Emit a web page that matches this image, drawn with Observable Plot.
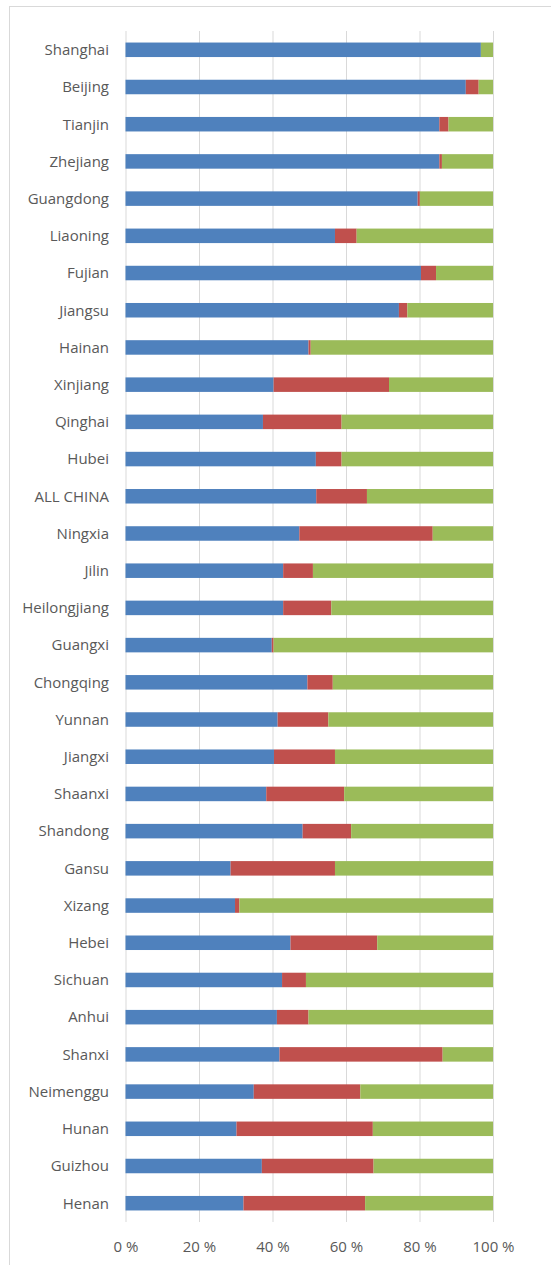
<!DOCTYPE html>
<html>
<head>
<meta charset="utf-8">
<script src="https://cdn.jsdelivr.net/npm/d3@7"></script>
<script src="https://cdn.jsdelivr.net/npm/@observablehq/plot@0.6"></script>
<style>
  html, body { margin: 0; padding: 0; background: #fff; }
  body { width: 551px; height: 1265px; position: relative; overflow: hidden; }
  #frame { position: absolute; left: 9px; top: 6px; width: 700px; height: 1400px;
           border-top: 1px solid #d9d9d9; border-left: 1px solid #d9d9d9; box-sizing: border-box; }
  #chart { position: absolute; left: 0; top: 0; }
</style>
</head>
<body>
<div id="frame"></div>
<div id="chart"></div>
<script>
const categories = ["Shanghai","Beijing","Tianjin","Zhejiang","Guangdong","Liaoning","Fujian","Jiangsu","Hainan","Xinjiang","Qinghai","Hubei","ALL CHINA","Ningxia","Jilin","Heilongjiang","Guangxi","Chongqing","Yunnan","Jiangxi","Shaanxi","Shandong","Gansu","Xizang","Hebei","Sichuan","Anhui","Shanxi","Neimenggu","Hunan","Guizhou","Henan"];
const seriesNames = ["Series 1","Series 2","Series 3"];
const series1 = [96.7,92.6,85.4,85.4,79.5,57.0,80.4,74.4,49.8,40.3,37.4,51.8,51.9,47.3,42.9,42.9,39.8,49.5,41.4,40.4,38.3,48.2,28.6,29.8,44.9,42.6,41.2,41.9,34.9,30.2,37.1,32.1];
const series2 = [0.0,3.5,2.5,0.7,0.6,5.9,4.1,2.3,0.6,31.4,21.4,7.0,13.8,36.3,8.1,13.1,0.5,6.9,13.8,16.6,21.2,13.2,28.4,1.2,23.6,6.5,8.6,44.4,29.0,37.1,30.4,33.1];
const series3 = [3.3,3.9,12.1,13.9,19.9,37.1,15.5,23.3,49.6,28.3,41.2,41.2,34.3,16.4,49.0,44.0,59.7,43.6,44.8,43.0,40.5,38.6,43.0,69.0,31.5,50.9,50.2,13.7,36.1,32.7,32.5,34.8];
const seriesColors = ["#4F81BD","#C0504D","#9BBB59"];
const xTicks = [0,20,40,60,80,100];

const values = [series1, series2, series3];
const data = [];
categories.forEach((c, i) => {
  values.forEach((v, s) => data.push({category: c, series: seriesNames[s], value: v[i]}));
});

const chart = Plot.plot({
  width: 551,
  height: 1265,
  marginLeft: 125.5,
  marginRight: 58,
  marginTop: 31,
  marginBottom: 43,
  style: {fontFamily: "'Open Sans', sans-serif", fontSize: "15px", color: "#595959", background: "transparent"},
  x: {domain: [0, 100], ticks: xTicks, tickFormat: d => d + " %", label: null, tickSize: 0, tickPadding: 19},
  y: {domain: categories, label: null, tickSize: 0, tickPadding: 17, paddingInner: 0.61, paddingOuter: 0.31, round: false},
  color: {domain: seriesNames, range: seriesColors},
  marks: [
    Plot.gridX(xTicks, {stroke: "#d9d9d9", strokeOpacity: 1}),
    Plot.barX(data, Plot.stackX({x: "value", y: "category", fill: "series", order: null})),
    Plot.axisX({ticks: xTicks, tickFormat: d => d + " %", tickSize: 0, tickPadding: 19, fill: "#595959", label: null}),
    Plot.axisY({tickSize: 0, tickPadding: 17, fill: "#595959", label: null})
  ]
});
document.getElementById("chart").appendChild(chart);
</script>
</body>
</html>
